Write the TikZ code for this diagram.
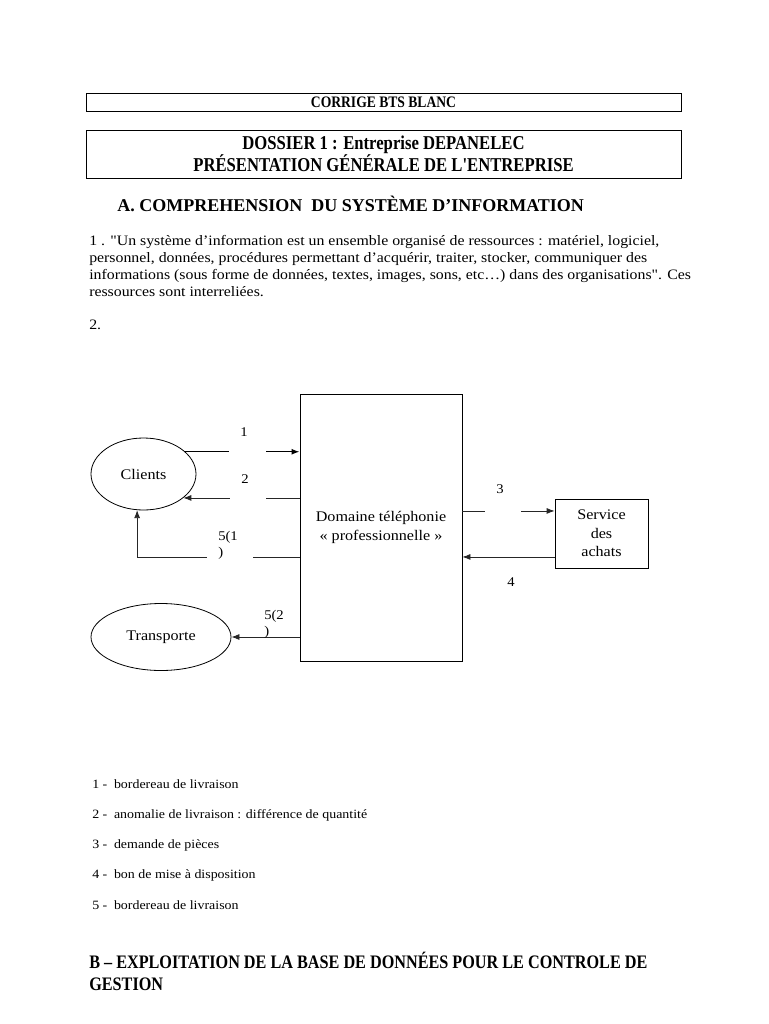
\documentclass[tikz,border=0pt]{standalone}
\usepackage{fontspec}
\setmainfont{Liberation Serif}
\newfontfamily\cambria[FakeStretch=1.1]{Liberation Serif}
\newfontfamily\headfont[FakeStretch=0.85]{Liberation Serif}
\usetikzlibrary{positioning,arrows.meta,shapes.geometric}

% text box of a flow label: fixed size, text at the top
\newcommand{\flowlbl}[3]{\parbox[t][#2][t]{#1}{#3}}

\begin{document}
\begin{tikzpicture}[x=0.75pt, y=-0.75pt,
    frame/.style={draw, line width=0.6pt, minimum width=446.25pt, inner sep=0pt, align=center},
    txt/.style={inner sep=0pt, anchor=north west, align=left},
    actor/.style={draw, ellipse, line width=0.6pt, inner sep=0pt, font=\cambria\fontsize{11}{13}\selectfont},
    proc/.style={draw, rectangle, line width=0.6pt, inner sep=0pt, align=center},
    flow/.style={-{Latex[length=6pt,width=4.5pt]}, line width=0.6pt, black!85},
    gapbox/.style={fill=white, inner xsep=8.25pt, inner ysep=0pt, anchor=north west, font=\cambria\fontsize{10}{12}\selectfont},
    lbl/.style={inner sep=0pt, font=\cambria\fontsize{10}{12}\selectfont},
    legend/.style={inner sep=0pt, anchor=base west, font=\cambria\fontsize{9.5}{11}\selectfont}]

  \useasboundingbox (0,0) rectangle (768,1024);

  % headers
  \node[frame, minimum height=13.5pt, font=\headfont\bfseries\fontsize{12}{14}\selectfont] (corrige) at (383.5,102) {CORRIGE BTS BLANC};
  \node[frame, minimum height=36pt, font=\headfont\bfseries\fontsize{14.7}{14.25}\selectfont] (dossier) at (383.5,154) {DOSSIER 1 : Entreprise DEPANELEC\\PRÉSENTATION GÉNÉRALE DE L'ENTREPRISE};

  \node[txt, anchor=base west, font=\bfseries\fontsize{13.5}{16}\selectfont] (secA) at (117,211) {A. COMPREHENSION\ \ DU SYSTÈME D'INFORMATION};

  \node[txt, font=\cambria\fontsize{10.8}{12.75}\selectfont] (def) at (89,235) {1 . "Un système d’information est un ensemble organisé de ressources : matériel, logiciel,\\
    personnel, données, procédures permettant d’acquérir, traiter, stocker, communiquer des\\
    informations (sous forme de données, textes, images, sons, etc…) dans des organisations". Ces\\
    ressources sont interreliées.};
  \node[txt, anchor=base west, font=\cambria\fontsize{10.8}{12.75}\selectfont] (q2) at (89,329) {2.};

  % flow diagram
  \node[actor, minimum width=78.75pt, minimum height=54pt] (clients) at (143.5,474) {Clients};
  \node[actor, minimum width=105pt, minimum height=50.25pt] (transp) at (161,637) {Transporte};
  \node[proc, minimum width=121.5pt, minimum height=200.25pt, font=\cambria\fontsize{11}{14.25}\selectfont] (domaine) at (381,527.5) {Domaine téléphonie\\« professionnelle »};
  \node[proc, minimum width=69.75pt, minimum height=51.75pt, font=\cambria\fontsize{11}{13.9}\selectfont] (achats) at (601.5,533.5) {Service\\des\\achats};

  \coordinate (p3) at ([yshift=16.9pt]achats.west);
  \coordinate (p4) at ([yshift=-17.6pt]achats.west);

  \draw[flow, line width=1.1pt, black] (clients.28) -- (clients.28 -| domaine.west);
  \draw[flow] (clients.-31 -| domaine.west) -- (clients.-31);
  \draw[flow] (domaine.west |- p4) -| (clients.-100);
  \draw[flow] (domaine.east |- p3) -- (p3);
  \draw[flow] (p4) -- (domaine.east |- p4);
  \draw[flow] (domaine.west |- transp.east) -- (transp.east);

  \node[gapbox] (l1) at (229,427) {\flowlbl{11.25pt}{24.75pt}{1}};
  \node[gapbox] (l2) at (230,474) {\flowlbl{10.5pt}{21.75pt}{2}};
  \node[gapbox] (l51) at (207,531) {\flowlbl{18pt}{21.75pt}{5(1\\)}};
  \node[gapbox] (l3) at (485,484) {\flowlbl{10.5pt}{23.25pt}{3}};
  \node[lbl] (l4) at (511,582) {4};
  \node[gapbox, fill=none] (l52) at (253,610) {\flowlbl{18pt}{20pt}{5(2\\)}};

  % legend
  \node[legend] (leg1) at (92,788) {1 -\hspace{5pt}bordereau de livraison};
  \node[legend, below=22.7pt of leg1.base west, anchor=base west] (leg2) {2 -\hspace{5pt}anomalie de livraison : différence de quantité};
  \node[legend, below=22.7pt of leg2.base west, anchor=base west] (leg3) {3 -\hspace{5pt}demande de pièces};
  \node[legend, below=22.7pt of leg3.base west, anchor=base west] (leg4) {4 -\hspace{5pt}bon de mise à disposition};
  \node[legend, below=22.7pt of leg4.base west, anchor=base west] (leg5) {5 -\hspace{5pt}bordereau de livraison};

  \node[txt, font=\headfont\bfseries\fontsize{14.3}{16.5}\selectfont] (secB) at (89,952) {B – EXPLOITATION DE LA BASE DE DONNÉES POUR LE CONTROLE DE\\GESTION};
\end{tikzpicture}
\end{document}
